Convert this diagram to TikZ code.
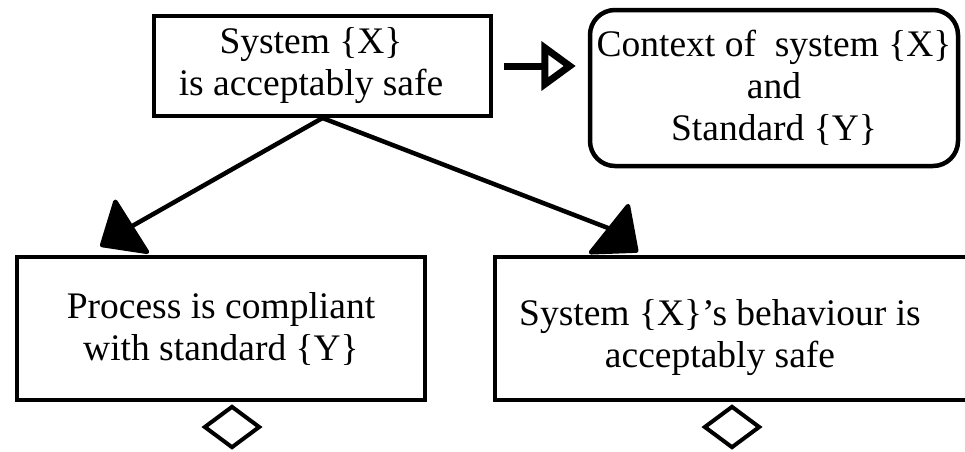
\documentclass[tikz,border=0pt]{standalone}
\usepackage{fontspec}
\setmainfont{Liberation Serif}
\usetikzlibrary{arrows.meta,shapes.geometric,backgrounds}

\begin{document}
\begin{tikzpicture}[x=1pt, y=-1pt,
    goalbox/.style={draw, fill=white, line width=4pt, inner sep=0pt, align=center,
        font=\fontsize{37.5}{42}\selectfont},
    goaltext/.style={goalbox, draw=none, fill=none},
    ctxbox/.style={goalbox, rounded corners=25pt},
    undev/.style={draw, diamond, line width=4pt, inner sep=0pt,
        minimum width=56pt, minimum height=42pt},
    solved/.style={line width=4.5pt, -{Triangle[length=40pt, width=68pt, round]}},
    incontext/.style={line width=7pt, -{Triangle[open, angle=70:42pt]}}]
    \clip (0, 0) rectangle (965, 451);

    % Top goal
    \node [goalbox, minimum width=337pt, minimum height=100pt] (goal) at (322.5, 66) {};
    \node [goaltext] (goaltxt) at (311, 66) {System \{X\}\\is acceptably safe};

    % Context
    \node [ctxbox, line width=4.5pt, minimum width=368pt, minimum height=156pt] (ctx) at (774, 88)
          {Context of~ system \{X\}\\and\\Standard \{Y\}};

    % Sub-goals
    \node [goalbox, line width=3.5pt, minimum width=408pt, minimum height=143pt] (proc) at (221, 328.5)
          {Process is compliant\\with standard \{Y\}};
    \node [goalbox, minimum width=500pt, minimum height=143pt] (behav) at (745, 328.5) {};
    \node [goaltext] (behavtxt) at (720, 338)
          {System \{X\}’s behaviour is\\acceptably safe};

    % Undeveloped
    \node [undev] (procundev) at (232, 427) {};
    \node [undev] (behavundev) at (732, 427) {};

    % Edges
    \coordinate (procbend) at (134, 225);
    \coordinate (behavbend) at (608, 228);
    \begin{scope}[on background layer]
      \draw [incontext, shorten <=11pt] (goal.east) -- ([xshift=-12pt]goal.east -| ctx.west);
      \draw [solved] (goal.south) -- (procbend) -- ([shift={(85pt,9pt)}]proc.north west);
      \draw [solved] (goal.south) -- (behavbend) -- ([shift={(145pt,3pt)}]behav.north west);
    \end{scope}
\end{tikzpicture}
\end{document}
